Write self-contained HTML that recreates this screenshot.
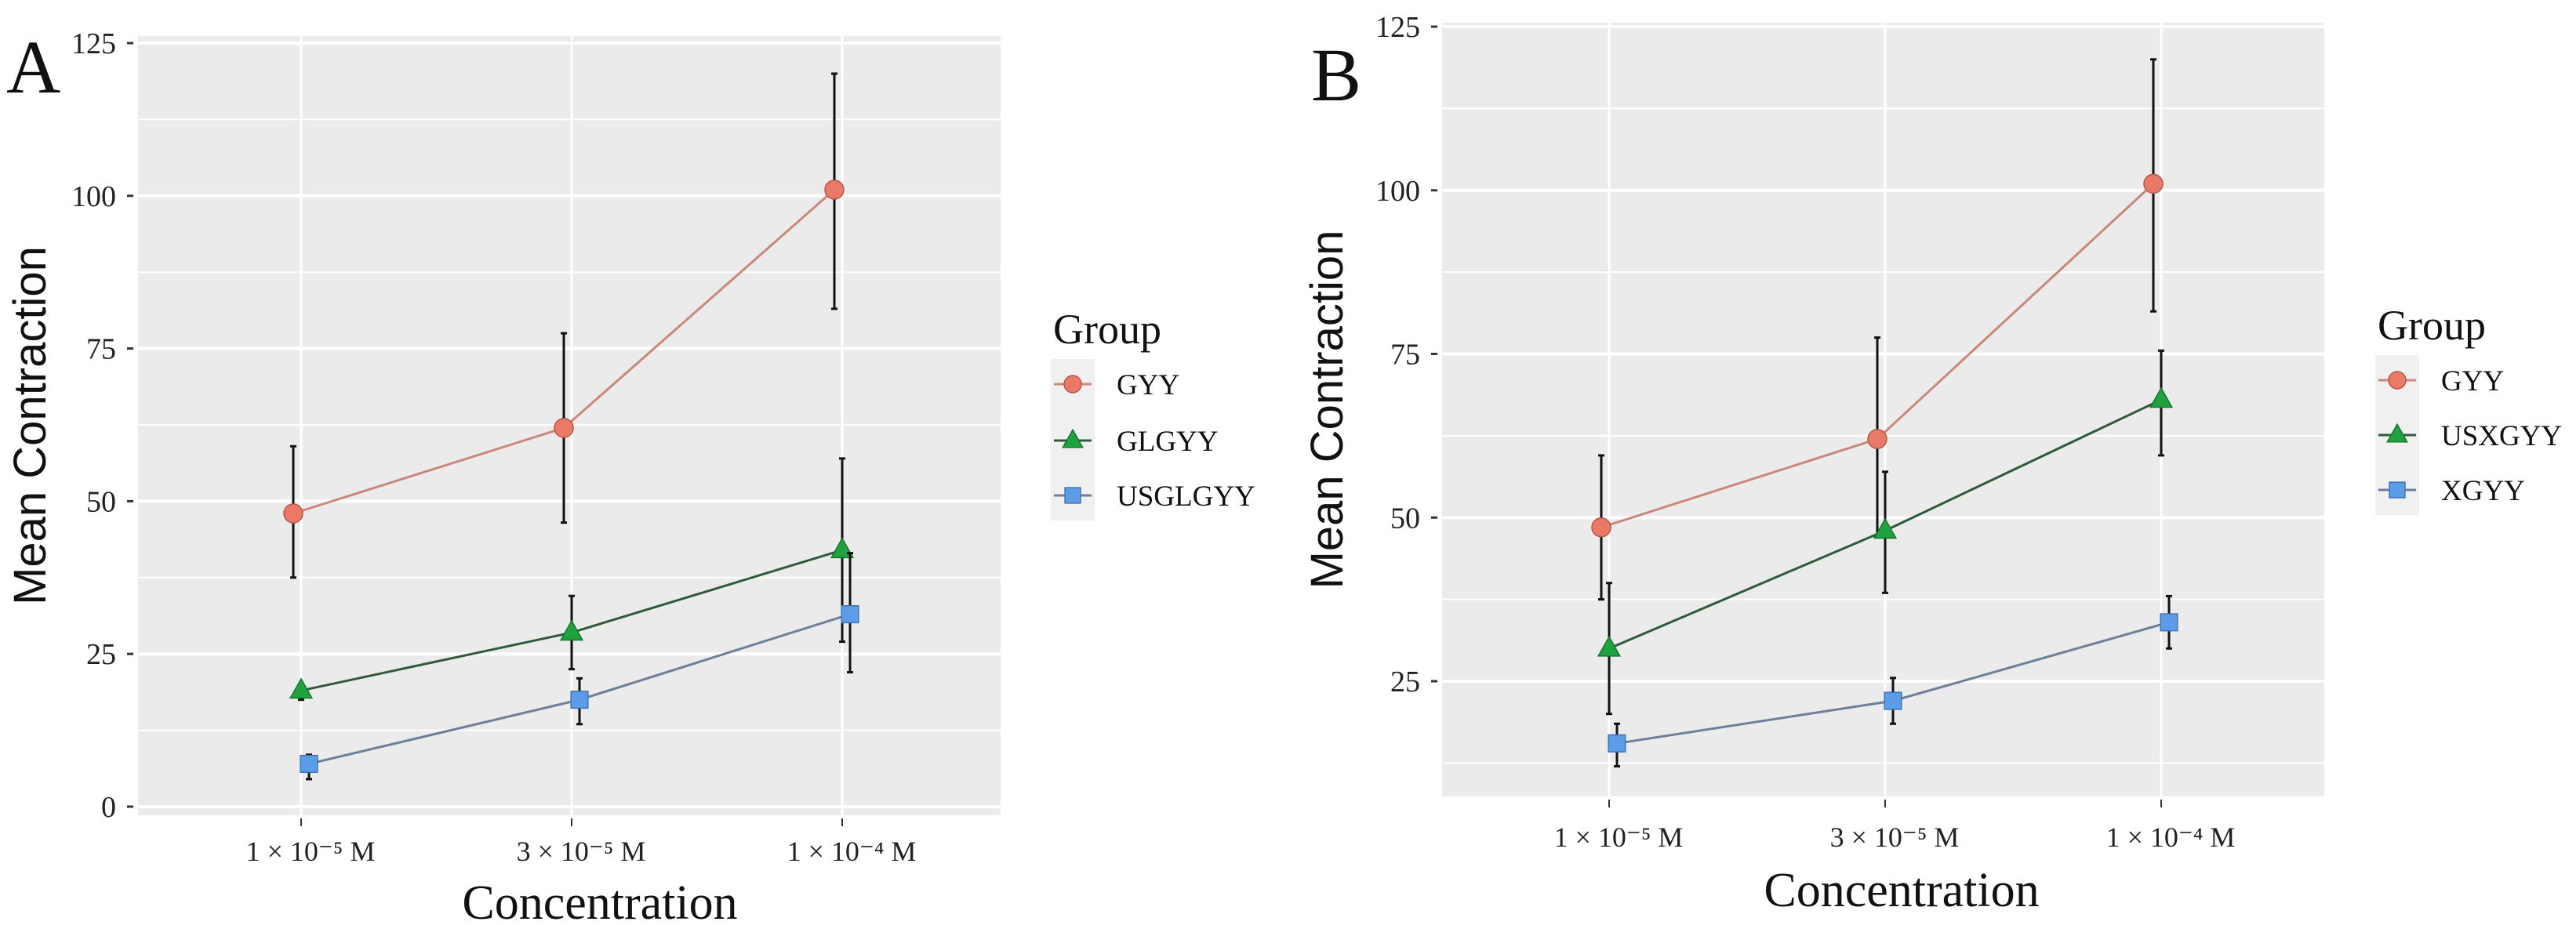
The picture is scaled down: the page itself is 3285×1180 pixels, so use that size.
<!DOCTYPE html>
<html><head><meta charset="utf-8"><style>
html,body{margin:0;padding:0;background:#fff;}
svg{display:block;}
text{font-family:"Liberation Serif",serif;}
</style></head><body>
<svg id="chart" width="3285" height="1180" xmlns="http://www.w3.org/2000/svg"></svg>
<script>
const categories = ["1 × 10⁻⁵ M", "3 × 10⁻⁵ M", "1 × 10⁻⁴ M"];
const yTicksA = [0, 25, 50, 75, 100, 125];
const yTicksB = [25, 50, 75, 100, 125];
const namesA = ["GYY", "GLGYY", "USGLGYY"];
const namesB = ["GYY", "USXGYY", "XGYY"];
const gyyA = [48, 62, 101];
const gyyAlo = [37.5, 46.5, 81.5];
const gyyAhi = [59, 77.5, 120];
const glgyyA = [19, 28.5, 42];
const glgyyAlo = [17.5, 22.5, 27];
const glgyyAhi = [19.5, 34.5, 57];
const usglgyyA = [7, 17.5, 31.5];
const usglgyyAlo = [4.5, 13.5, 22];
const usglgyyAhi = [8.5, 21, 41.5];
const gyyB = [48.5, 62, 101];
const gyyBlo = [37.5, 47, 81.5];
const gyyBhi = [59.5, 77.5, 120];
const usxgyyB = [30, 48, 68];
const usxgyyBlo = [20, 38.5, 59.5];
const usxgyyBhi = [40, 57, 75.5];
const xgyyB = [15.5, 22, 34];
const xgyyBlo = [12, 18.5, 30];
const xgyyBhi = [18.5, 25.5, 38];

const NS = "http://www.w3.org/2000/svg";
const svg = document.getElementById("chart");
function mk(tag, attrs, parent, txt){
  const e = document.createElementNS(NS, tag);
  for (const k in attrs) e.setAttribute(k, attrs[k]);
  if (txt !== undefined) e.textContent = txt;
  (parent || svg).appendChild(e);
  return e;
}
const fills = ["#ea7a66", "#1ea33e", "#5b9de8"];
const lineCols = ["#c9887a", "#2f5b3c", "#6d7f99"];
const strokes = ["#b5584a", "#17752d", "#3f73b5"];

function marker(g, shape, cx, cy, i, s){
  let m;
  if (shape === 0) m = mk("circle", {cx: cx, cy: cy, r: s}, g);
  else if (shape === 1) m = mk("polygon", {points: `${cx},${cy - s * 1.25} ${cx - s * 1.15},${cy + s * 0.8} ${cx + s * 1.15},${cy + s * 0.8}`}, g);
  else m = mk("rect", {x: cx - s * 0.9, y: cy - s * 0.9, width: s * 1.8, height: s * 1.8}, g);
  m.setAttribute("fill", fills[i]);
  m.setAttribute("stroke", strokes[i]);
  m.setAttribute("stroke-width", 1.5);
  return m;
}

function panel(cfg){
  const g = mk("g", {});
  
  
  const y = v => cfg.y0 + (v - cfg.v0) * (cfg.y1 - cfg.y0) / (cfg.v1 - cfg.v0);
  const x = i => cfg.xs[0] + i * (cfg.xs[1] - cfg.xs[0]);
  const bg = mk("rect", {x: cfg.L, y: cfg.T, width: cfg.R - cfg.L, height: cfg.B - cfg.T, fill: "#ebebeb"}, g);
  
  
  const step = cfg.ticks[1] - cfg.ticks[0];
  for (let v = cfg.ticks[0] - step / 2; v <= cfg.ticks[cfg.ticks.length - 1]; v += step / 2) {
    const yy = y(v);
    if (yy < cfg.T || yy > cfg.B) continue;
    const major = cfg.ticks.indexOf(v) >= 0;
    mk("line", {x1: cfg.L, x2: cfg.R, y1: yy, y2: yy, stroke: "#fff", "stroke-width": major ? 4 : 2}, g);
  }
  categories.forEach((c, i) => {
    mk("line", {x1: x(i), x2: x(i), y1: cfg.T, y2: cfg.B, stroke: "#fff", "stroke-width": 3}, g);
    mk("line", {x1: x(i), x2: x(i), y1: cfg.B + 4, y2: cfg.B + 14, stroke: "#333", "stroke-width": 2}, g);
    const t = mk("text", {x: x(i) + 12, y: cfg.tickLabelY, "font-size": 36, "text-anchor": "middle", fill: "#222"}, g, c);
    
    
  });
  cfg.ticks.forEach(v => {
    mk("line", {x1: cfg.L - 14, x2: cfg.L - 6, y1: y(v), y2: y(v), stroke: "#333", "stroke-width": 3}, g);
    const t = mk("text", {x: cfg.L - 28, y: y(v) + 13, "font-size": 38, "text-anchor": "end", fill: "#222"}, g, String(v));
    
    
  });
  const dodge = [-10, 0, 10];
  cfg.series.forEach((s, si) => {
    const sg = mk("g", {}, g);
    
    
    const pts = s.v.map((v, i) => `${x(i) + dodge[si]},${y(v)}`).join(" ");
    mk("polyline", {points: pts, fill: "none", stroke: lineCols[si], "stroke-width": 3}, sg);
    s.v.forEach((v, i) => {
      const cx = x(i) + dodge[si];
      mk("line", {x1: cx, x2: cx, y1: y(s.lo[i]), y2: y(s.hi[i]), stroke: "#111", "stroke-width": 3}, sg);
      mk("line", {x1: cx - 4, x2: cx + 4, y1: y(s.lo[i]), y2: y(s.lo[i]), stroke: "#111", "stroke-width": 3}, sg);
      mk("line", {x1: cx - 4, x2: cx + 4, y1: y(s.hi[i]), y2: y(s.hi[i]), stroke: "#111", "stroke-width": 3}, sg);
      const m = marker(sg, si, cx, y(v), si, 12);
      
      
    });
  });
  const lab = mk("text", {x: cfg.letterX, y: cfg.letterY, "font-size": 96, fill: "#111"}, g, cfg.letter);
  
  
  const yt = mk("text", {transform: `translate(${cfg.ytX},${(cfg.T + cfg.B) / 2}) rotate(-90)`, "font-size": 58, "text-anchor": "middle", fill: "#111", style: 'font-family:"Liberation Sans",sans-serif'}, g, "Mean Contraction");
  
  
  const xt = mk("text", {x: cfg.xtX, y: cfg.xtY, "font-size": 62, "text-anchor": "middle", fill: "#111"}, g, "Concentration");
  
  
  const lg = mk("g", {}, g);
  
  
  const gt = mk("text", {x: cfg.legX - 25, y: cfg.legY[0] - 52, "font-size": 54, fill: "#111"}, lg, "Group");
  
  
  mk("rect", {x: cfg.legX - 28, y: cfg.legY[0] - 32, width: 56, height: cfg.legY[2] - cfg.legY[0] + 64, fill: "#f0f0f0"}, lg);
  cfg.names.forEach((n, i) => {
    const e = mk("g", {}, lg);
    
    
    mk("line", {x1: cfg.legX - 24, x2: cfg.legX + 24, y1: cfg.legY[i], y2: cfg.legY[i], stroke: lineCols[i], "stroke-width": 3}, e);
    marker(e, i, cfg.legX, cfg.legY[i], i, 11);
    mk("text", {x: cfg.legX + 56, y: cfg.legY[i] + 13, "font-size": 37, fill: "#111"}, e, n);
  });
}

panel({id: "panel-a", L: 176, R: 1276, T: 46, B: 1040, v0: 0, v1: 125, y0: 1029, y1: 55,
  xs: [384, 729], ticks: yTicksA, tickLabelY: 1098, names: namesA,
  series: [{v: gyyA, lo: gyyAlo, hi: gyyAhi}, {v: glgyyA, lo: glgyyAlo, hi: glgyyAhi}, {v: usglgyyA, lo: usglgyyAlo, hi: usglgyyAhi}],
  letter: "A", letterX: 8, letterY: 118, ytX: 58, xtX: 765, xtY: 1172, legX: 1368, legY: [490, 562, 632]});
panel({id: "panel-b", L: 1839, R: 2964, T: 29, B: 1016, v0: 25, v1: 125, y0: 869, y1: 34,
  xs: [2052, 2404], ticks: yTicksB, tickLabelY: 1080, names: namesB,
  series: [{v: gyyB, lo: gyyBlo, hi: gyyBhi}, {v: usxgyyB, lo: usxgyyBlo, hi: usxgyyBhi}, {v: xgyyB, lo: xgyyBlo, hi: xgyyBhi}],
  letter: "B", letterX: 1672, letterY: 128, ytX: 1712, xtX: 2425, xtY: 1156, legX: 3057, legY: [485, 555, 625]});
</script>
</body></html>
